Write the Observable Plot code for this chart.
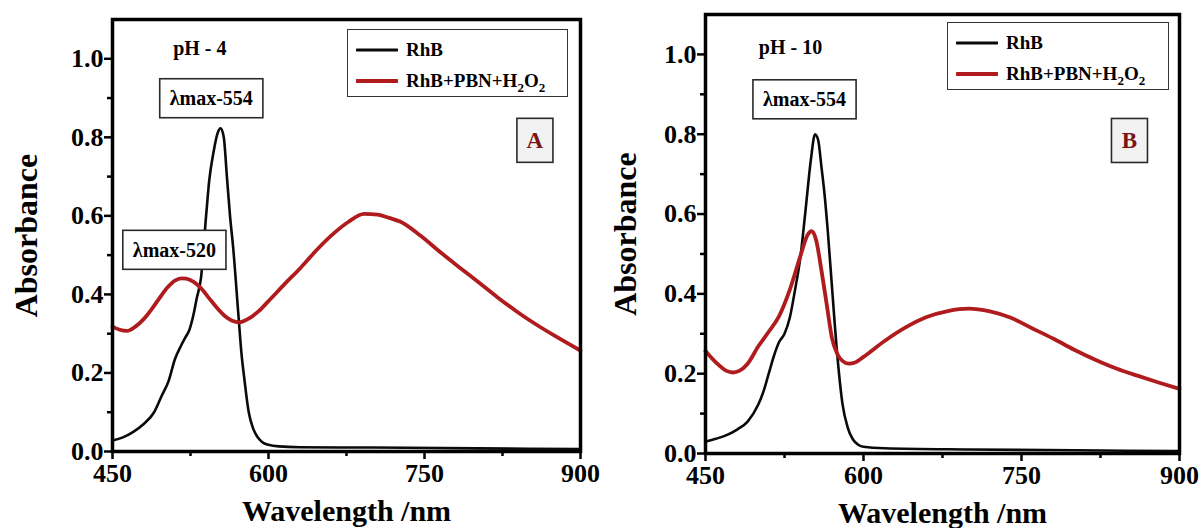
<!DOCTYPE html>
<html>
<head>
<meta charset="utf-8">
<script src="https://cdn.jsdelivr.net/npm/d3@7"></script>
<script src="https://cdn.jsdelivr.net/npm/@observablehq/plot@0.6"></script>
<style>
  html, body { margin: 0; padding: 0; background: #fff; }
  #wrap { position: relative; width: 1203px; height: 528px; overflow: hidden; background: #fff; font-weight: bold; }
  .panel { position: absolute; top: 0; }
  .panel svg { overflow: visible; }
  .legend { position: absolute; box-sizing: border-box; border: 1.5px solid #333; background: #fff;
            padding: 4px 0 0 8px; font-size: 19px; line-height: 31px; color: #000; }
  .legend .row { display: flex; align-items: center; height: 31px; white-space: nowrap; }
  .legend svg { margin-right: 8px; }
  .legend sub { font-size: 13px; vertical-align: -5px; line-height: 0; }
</style>
</head>
<body>
<div id="wrap"></div>
<script>
// ---------- tick values ----------
const xTicks = [450, 600, 750, 900];
const xMinorTicks = [525, 675, 825];
const yTicks = [0, 0.2, 0.4, 0.6, 0.8, 1.0];
const yMinorTicks = [0.1, 0.3, 0.5, 0.7, 0.9];
const xTitle = "Wavelength /nm";
const yTitle = "Absorbance";
const seriesNames = ["RhB", "RhB+PBN+H<sub>2</sub>O<sub>2</sub>"];

// ---------- panel A (pH 4) ----------
const wlBlackA = [450, 460, 470, 480, 490, 497, 504, 510, 516, 520, 524, 528, 531, 535, 540, 543, 547, 551, 554, 557, 560, 563, 566, 571, 574, 577, 581, 585, 590, 595, 600, 610, 630, 700, 800, 900];
const absBlackA = [0.028, 0.036, 0.05, 0.07, 0.10, 0.14, 0.18, 0.235, 0.27, 0.29, 0.31, 0.35, 0.39, 0.44, 0.60, 0.69, 0.76, 0.81, 0.823, 0.80, 0.70, 0.60, 0.52, 0.35, 0.25, 0.18, 0.10, 0.06, 0.035, 0.022, 0.017, 0.013, 0.011, 0.010, 0.008, 0.006];
const wlRedA = [450, 457, 464, 472, 480, 487, 495, 503, 510, 516, 521, 528, 535, 543, 551, 558, 565, 572, 580, 590, 600, 615, 631, 647, 663, 677, 692, 705, 716, 727, 746, 765, 783, 802, 820, 839, 857, 875, 890, 900];
const absRedA = [0.318, 0.31, 0.307, 0.318, 0.337, 0.36, 0.39, 0.418, 0.435, 0.441, 0.44, 0.432, 0.416, 0.39, 0.364, 0.345, 0.333, 0.329, 0.337, 0.356, 0.383, 0.425, 0.468, 0.515, 0.556, 0.585, 0.605, 0.603, 0.595, 0.585, 0.55, 0.508, 0.47, 0.431, 0.393, 0.356, 0.324, 0.295, 0.272, 0.257];
const notesA = [
  {x: 534, y: 1.027, text: "pH - 4", box: false},
  {x: 545, y: 0.898, text: "λmax-554", box: true},
  {x: 509.5, y: 0.512, text: "λmax-520", box: true}
];
const tagA = [{x: 856, y: 0.792, text: "A"}];

// ---------- panel B (pH 10) ----------
const wlBlackB = [450, 460, 470, 480, 490, 500, 505, 510, 515, 520, 525, 530, 535, 540, 545, 550, 554, 557, 560, 563, 566, 570, 575, 580, 585, 590, 595, 600, 620, 700, 800, 900];
const absBlackB = [0.03, 0.037, 0.046, 0.06, 0.08, 0.122, 0.155, 0.20, 0.245, 0.28, 0.30, 0.34, 0.41, 0.49, 0.61, 0.735, 0.80, 0.785, 0.72, 0.65, 0.56, 0.42, 0.25, 0.125, 0.065, 0.035, 0.022, 0.017, 0.013, 0.010, 0.008, 0.006];
const wlRedB = [450, 460, 470, 476, 482, 490, 500, 510, 520, 530, 540, 547, 551, 555, 560, 565, 570, 575, 580, 586, 592, 600, 620, 640, 660, 680, 700, 720, 740, 760, 780, 800, 820, 840, 860, 880, 900];
const absRedB = [0.257, 0.228, 0.207, 0.203, 0.207, 0.225, 0.268, 0.305, 0.345, 0.41, 0.494, 0.548, 0.557, 0.535, 0.46, 0.375, 0.29, 0.25, 0.232, 0.225, 0.228, 0.242, 0.282, 0.316, 0.342, 0.357, 0.363, 0.356, 0.34, 0.314, 0.288, 0.26, 0.235, 0.213, 0.195, 0.178, 0.162];
const notesB = [
  {x: 530.7, y: 1.017, text: "pH - 10", box: false},
  {x: 544, y: 0.886, text: "λmax-554", box: true}
];
const tagB = [{x: 852.5, y: 0.784, text: "B"}];

// ---------- font: pick first installed serif ----------
function hasFont(f) {
  const c = document.createElement("canvas").getContext("2d");
  const s = "RhB+PBN Wavelength Absorbance 0123456789";
  let ok = false;
  for (const fb of ["monospace", "sans-serif"]) {
    c.font = `bold 40px ${fb}`;
    const a = c.measureText(s).width;
    c.font = `bold 40px "${f}", ${fb}`;
    const b = c.measureText(s).width;
    if (Math.abs(a - b) > 0.5) ok = true; else return false;
  }
  return ok;
}
const serifChoice = ["Liberation Serif", "Times New Roman", "Tinos", "DejaVu Serif Condensed", "DejaVu Serif"].find(hasFont);
const FONT = (serifChoice ? `"${serifChoice}", ` : "") + "serif";
document.getElementById("wrap").style.fontFamily = FONT;

const RED = "#b01c1e";
const BLACK = "#0a0a0a";

function rows(w, v) { return w.map((x, i) => ({x, y: v[i]})); }

function panel(cfg) {
  return Plot.plot({
    width: cfg.width, height: 528,
    marginLeft: cfg.ml, marginRight: cfg.mr, marginTop: cfg.mt, marginBottom: cfg.mb,
    x: {domain: [450, 900]},
    y: {domain: [0, 1.1]},
    style: {fontFamily: FONT, fontWeight: "bold", background: "transparent", color: "#000", overflow: "visible"},
    marks: [
      Plot.axisX({ticks: xTicks, tickSize: 8, tickPadding: 4, fontSize: 26, strokeWidth: 2.5, label: null}),
      Plot.axisX({ticks: xMinorTicks, tickSize: 5, tickFormat: () => "", strokeWidth: 2.5, label: null}),
      Plot.axisY({ticks: yTicks, tickSize: 8, tickPadding: 1, fontSize: 26, strokeWidth: 2.5, tickFormat: d3.format(".1f"), label: null}),
      Plot.axisY({ticks: yMinorTicks, tickSize: 5, tickFormat: () => "", strokeWidth: 2.5, label: null}),
      Plot.line(rows(cfg.wlBlack, cfg.black), {x: "x", y: "y", stroke: BLACK, strokeWidth: 2.6, curve: "monotone-x"}),
      Plot.line(rows(cfg.wlRed, cfg.red), {x: "x", y: "y", stroke: RED, strokeWidth: 3.8, curve: "monotone-x"}),
      Plot.frame({strokeWidth: 3.5}),
      Plot.text([xTitle], {text: d => d, frameAnchor: "bottom", lineAnchor: "middle", dy: 60, fontSize: 30}),
      Plot.text([yTitle], {text: d => d, frameAnchor: "left", textAnchor: "middle", lineAnchor: "middle", rotate: -90, dx: cfg.ytdx, fontSize: 32}),
      Plot.text(cfg.notes, {x: "x", y: "y", text: "text", fontSize: 20}),
      Plot.text(cfg.tag, {x: "x", y: "y", text: "text", fontSize: 23, fill: "#7a1515"})
    ]
  });
}

function addBoxes(svg, texts, padX, padY, fill, minW, minH) {
  d3.select(svg).selectAll("text").filter(function() { return texts.has(this.textContent); }).each(function() {
    const b = this.getBBox();
    const w = Math.max(b.width + 2 * padX, minW || 0);
    const h = Math.max(b.height + 2 * padY, minH || 0);
    const cx = b.x + b.width / 2, cy = b.y + b.height / 2;
    const r = document.createElementNS("http://www.w3.org/2000/svg", "rect");
    r.setAttribute("x", cx - w / 2);
    r.setAttribute("y", cy - h / 2);
    r.setAttribute("width", w);
    r.setAttribute("height", h);
    r.setAttribute("fill", fill);
    r.setAttribute("stroke", "#2a2a2a");
    r.setAttribute("stroke-width", 1.6);
    const t = this.getAttribute("transform");
    if (t) r.setAttribute("transform", t);
    this.parentNode.insertBefore(r, this);
  });
}

function legend(parent, left, top, width, height) {
  const div = parent.append("div").attr("class", "legend")
    .style("left", left + "px").style("top", top + "px")
    .style("width", width + "px").style("height", height + "px");
  [BLACK, RED].forEach((c, i) => {
    const row = div.append("div").attr("class", "row");
    const s = row.append("svg").attr("width", 42).attr("height", 10);
    s.append("line").attr("x1", 1).attr("x2", 41).attr("y1", 5).attr("y2", 5)
      .attr("stroke", c).attr("stroke-width", i ? 4 : 3.2).attr("stroke-linecap", "round");
    row.append("span").html(seriesNames[i]);
  });
}

const wrap = d3.select("#wrap");

const pA = panel({width: 600, ml: 112, mr: 20, mt: 19, mb: 77, ytdx: -86,
  wlBlack: wlBlackA, black: absBlackA, wlRed: wlRedA, red: absRedA, notes: notesA, tag: tagA});
const pB = panel({width: 603, ml: 105, mr: 24, mt: 14, mb: 75, ytdx: -80,
  wlBlack: wlBlackB, black: absBlackB, wlRed: wlRedB, red: absRedB, notes: notesB, tag: tagB});

wrap.append("div").attr("class", "panel").style("left", "0px").node().appendChild(pA);
wrap.append("div").attr("class", "panel").style("left", "600px").node().appendChild(pB);

[[pA, notesA, tagA], [pB, notesB, tagB]].forEach(([p, notes, tag]) => {
  addBoxes(p, new Set(notes.filter(d => d.box).map(d => d.text)), 10, 7, "#fff", 0, 39);
  addBoxes(p, new Set(tag.map(d => d.text)), 8, 8, "#f2f2f2", 36, 44);
});

legend(wrap, 347, 29, 221, 68);
legend(wrap, 947, 22, 222, 68);
</script>
</body>
</html>
